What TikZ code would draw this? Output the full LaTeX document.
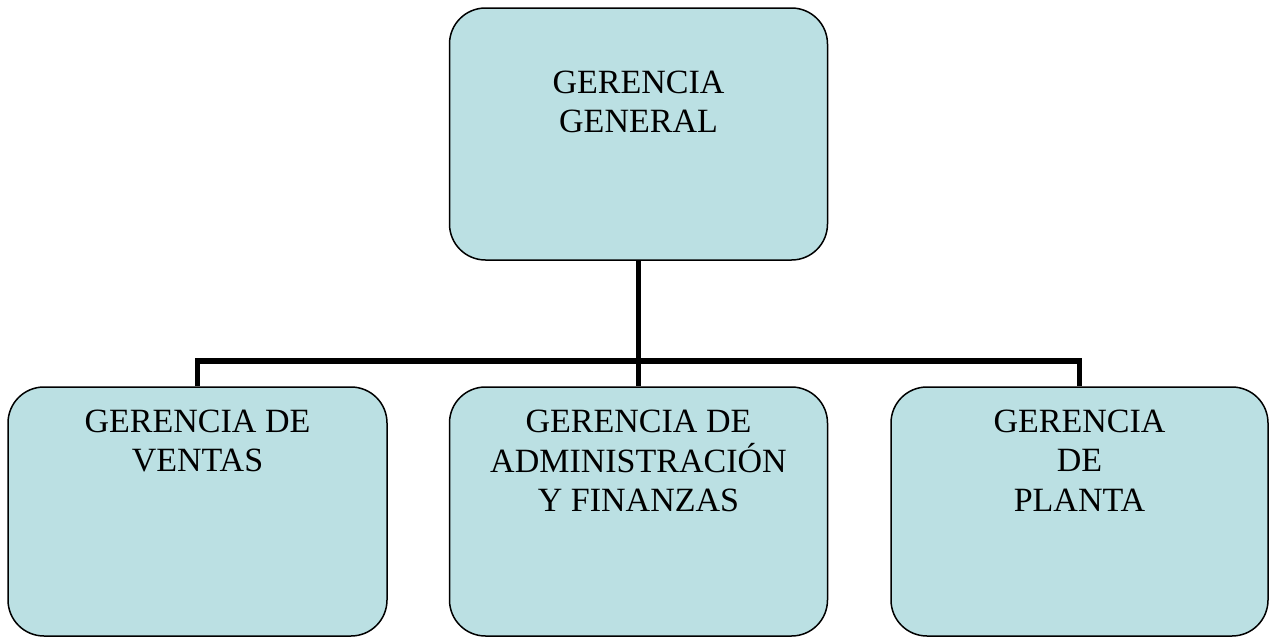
\documentclass[tikz,border=0pt]{standalone}
\usepackage{fontspec}
\setmainfont{Liberation Serif}
\definecolor{boxfill}{RGB}{187,224,227}
\tikzset{
  x=1pt, y=1pt,
  orgbox/.style={draw=black, line width=1.5pt, fill=boxfill, rounded corners=36pt, inner sep=0pt},
  orgtext/.style={anchor=north, align=center, inner sep=0pt, font=\fontsize{34}{39.5}\selectfont},
  conn/.style={draw=black, line width=5.5pt}
}
\begin{document}
\begin{tikzpicture}
\useasboundingbox (0,0) rectangle (1272,-637);
\node[orgbox, minimum width=378pt, minimum height=252pt] (top) at (638.5,-134) {};
\node[orgbox, minimum width=379pt, minimum height=249pt] (ventas) at (197.5,-511.5) {};
\node[orgbox, minimum width=378pt, minimum height=249pt] (admin) at (638.5,-511.5) {};
\node[orgbox, minimum width=377pt, minimum height=249pt] (planta) at (1079.5,-511.5) {};
\coordinate (bus) at (0,-361);
\draw[conn] (top.south) -- (admin.north);
\draw[conn] (ventas.north) |- (top.south |- bus) -| (planta.north);
\node[orgtext] (ttop) at (638.5,-70.5) {GERENCIA\\GENERAL};
\node[orgtext] (tventas) at (197.5,-409.5) {GERENCIA DE\\VENTAS};
\node[orgtext] (tadmin) at (638.5,-410) {GERENCIA DE\\ADMINISTRACIÓN\\Y FINANZAS};
\node[orgtext] (tplanta) at (1079.5,-409.5) {GERENCIA\\DE\\PLANTA};
\end{tikzpicture}
\end{document}
